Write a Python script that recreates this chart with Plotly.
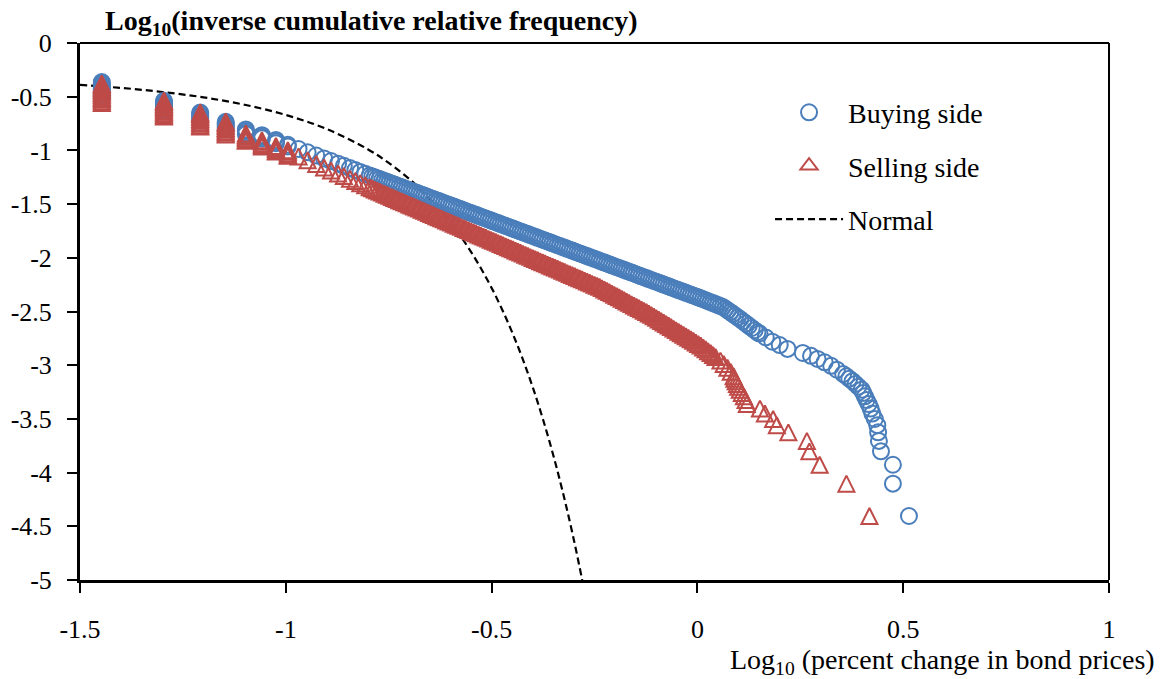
import plotly.graph_objects as go

# ---- data -------------------------------------------------------------
# lowest price-change levels: each level carries a column of tied observations
col_x = [-1.447, -1.296, -1.208, -1.146, -1.097, -1.058, -1.024, -0.995]
buy_col_y = [
    [-0.363, -0.378, -0.393, -0.408, -0.423, -0.438, -0.453, -0.468, -0.483, -0.498, -0.513],
    [-0.538, -0.553, -0.568, -0.583, -0.598, -0.613, -0.628],
    [-0.647, -0.662, -0.677, -0.692, -0.707, -0.722],
    [-0.734, -0.749, -0.764, -0.779, -0.794],
    [-0.805, -0.820, -0.835, -0.850],
    [-0.858, -0.873, -0.888],
    [-0.903, -0.918, -0.933],
    [-0.948, -0.963],
]
sell_col_y = [
    [-0.377, -0.392, -0.407, -0.422, -0.437, -0.452, -0.467, -0.482, -0.497, -0.512, -0.527,
     -0.542, -0.559],
    [-0.535, -0.550, -0.565, -0.580, -0.595, -0.610, -0.625, -0.640, -0.655, -0.670, -0.684],
    [-0.647, -0.662, -0.677, -0.692, -0.707, -0.722, -0.737, -0.752, -0.767, -0.777],
    [-0.731, -0.746, -0.761, -0.776, -0.791, -0.806, -0.821, -0.836, -0.852],
    [-0.843, -0.858, -0.873, -0.888, -0.903, -0.911],
    [-0.905, -0.920, -0.935, -0.950, -0.964],
    [-0.958, -0.973, -0.988, -1.003, -1.010],
    [-0.998, -1.013, -1.028, -1.043, -1.050],
]

# body of the distribution (shared price-change levels)
band_x = [
    -0.969, -0.947, -0.926, -0.907, -0.890, -0.873, -0.859, -0.844, -0.831, -0.819, -0.807, -0.796,
    -0.790, -0.784, -0.778, -0.772, -0.766, -0.760, -0.754, -0.748, -0.742, -0.736,
    -0.730, -0.724, -0.718, -0.712, -0.706, -0.700, -0.694, -0.688, -0.682, -0.676,
    -0.670, -0.664, -0.658, -0.652, -0.646, -0.640, -0.634, -0.628, -0.622, -0.616,
    -0.610, -0.604, -0.598, -0.592, -0.586, -0.580, -0.574, -0.568, -0.562, -0.556,
    -0.550, -0.544, -0.538, -0.532, -0.526, -0.520, -0.514, -0.508, -0.502, -0.496,
    -0.490, -0.484, -0.478, -0.472, -0.466, -0.460, -0.454, -0.448, -0.442, -0.436,
    -0.430, -0.424, -0.418, -0.412, -0.406, -0.400, -0.394, -0.388, -0.382, -0.376,
    -0.370, -0.364, -0.358, -0.352, -0.346, -0.340, -0.334, -0.328, -0.322, -0.316,
    -0.310, -0.304, -0.298, -0.292, -0.286, -0.280, -0.274, -0.268, -0.262, -0.256,
    -0.250, -0.244, -0.238, -0.232, -0.226, -0.220, -0.214, -0.208, -0.202, -0.196,
    -0.190, -0.184, -0.178, -0.172, -0.166, -0.160, -0.154, -0.148, -0.142, -0.136,
    -0.130, -0.124, -0.118, -0.112, -0.106, -0.100, -0.094, -0.088, -0.082, -0.076,
    -0.070, -0.064, -0.058, -0.052, -0.046, -0.040, -0.034, -0.028, -0.022, -0.016,
    -0.010, -0.004, 0.002, 0.008, 0.014, 0.020, 0.026, 0.032, 0.038, 0.044,
]
buy_band_y = [
    -0.987, -1.018, -1.048, -1.075, -1.099, -1.124, -1.144, -1.165, -1.183, -1.200, -1.218, -1.233,
    -1.242, -1.250, -1.259, -1.267, -1.276, -1.284, -1.293, -1.301, -1.310, -1.318,
    -1.327, -1.336, -1.344, -1.353, -1.361, -1.370, -1.378, -1.387, -1.395, -1.404,
    -1.412, -1.421, -1.429, -1.438, -1.447, -1.455, -1.464, -1.472, -1.481, -1.489,
    -1.498, -1.506, -1.515, -1.523, -1.532, -1.540, -1.549, -1.558, -1.566, -1.575,
    -1.583, -1.592, -1.600, -1.609, -1.617, -1.626, -1.634, -1.643, -1.651, -1.660,
    -1.668, -1.677, -1.686, -1.694, -1.703, -1.711, -1.720, -1.728, -1.737, -1.745,
    -1.754, -1.762, -1.771, -1.779, -1.788, -1.797, -1.805, -1.814, -1.822, -1.831,
    -1.839, -1.848, -1.856, -1.865, -1.873, -1.882, -1.890, -1.899, -1.907, -1.916,
    -1.925, -1.933, -1.942, -1.950, -1.959, -1.967, -1.976, -1.984, -1.993, -2.001,
    -2.010, -2.018, -2.027, -2.036, -2.044, -2.053, -2.061, -2.070, -2.078, -2.087,
    -2.095, -2.104, -2.112, -2.121, -2.129, -2.138, -2.146, -2.155, -2.164, -2.172,
    -2.181, -2.189, -2.198, -2.206, -2.215, -2.223, -2.232, -2.240, -2.249, -2.257,
    -2.266, -2.275, -2.283, -2.292, -2.300, -2.309, -2.317, -2.326, -2.334, -2.343,
    -2.351, -2.360, -2.368, -2.377, -2.386, -2.395, -2.404, -2.413, -2.422, -2.431,
]
sell_band_y = [
    -1.056, -1.092, -1.127, -1.159, -1.187, -1.215, -1.238, -1.263, -1.285, -1.305, -1.325, -1.343,
    -1.353, -1.363, -1.373, -1.383, -1.393, -1.403, -1.413, -1.423, -1.433, -1.443,
    -1.453, -1.463, -1.473, -1.483, -1.493, -1.503, -1.512, -1.522, -1.532, -1.542,
    -1.552, -1.562, -1.572, -1.582, -1.592, -1.602, -1.612, -1.622, -1.632, -1.642,
    -1.652, -1.662, -1.672, -1.682, -1.692, -1.702, -1.712, -1.722, -1.732, -1.742,
    -1.752, -1.762, -1.772, -1.782, -1.792, -1.801, -1.811, -1.821, -1.831, -1.841,
    -1.851, -1.861, -1.871, -1.881, -1.891, -1.901, -1.911, -1.921, -1.931, -1.941,
    -1.951, -1.961, -1.971, -1.981, -1.991, -2.001, -2.011, -2.021, -2.031, -2.041,
    -2.051, -2.061, -2.071, -2.081, -2.091, -2.100, -2.110, -2.120, -2.130, -2.140,
    -2.150, -2.160, -2.170, -2.180, -2.190, -2.200, -2.210, -2.220, -2.230, -2.240,
    -2.250, -2.260, -2.270, -2.282, -2.294, -2.306, -2.319, -2.331, -2.344, -2.356,
    -2.368, -2.381, -2.393, -2.406, -2.418, -2.431, -2.443, -2.455, -2.468, -2.480,
    -2.493, -2.505, -2.518, -2.531, -2.545, -2.559, -2.574, -2.588, -2.602, -2.616,
    -2.631, -2.645, -2.659, -2.673, -2.688, -2.702, -2.716, -2.731, -2.745, -2.759,
    -2.773, -2.788, -2.802, -2.817, -2.835, -2.852, -2.870, -2.887, -2.905, -2.923,
]

# upper tails (largest changes, sparse)
buy_tail_x = [
    0.050, 0.056, 0.062, 0.068, 0.074, 0.080, 0.086, 0.092, 0.098, 0.104, 0.111, 0.118,
    0.125, 0.132, 0.139, 0.146, 0.151, 0.166, 0.182, 0.200, 0.219, 0.256, 0.276, 0.292,
    0.309, 0.325, 0.339, 0.354, 0.362, 0.369, 0.377, 0.384, 0.391, 0.399, 0.403, 0.407,
    0.411, 0.416, 0.421, 0.425, 0.431, 0.437, 0.439, 0.441, 0.446, 0.475, 0.475, 0.514,
]
buy_tail_y = [
    -2.440, -2.449, -2.458, -2.474, -2.490, -2.506, -2.522, -2.539, -2.555, -2.571, -2.592, -2.612,
    -2.633, -2.653, -2.674, -2.694, -2.705, -2.741, -2.781, -2.813, -2.848, -2.886, -2.913, -2.942,
    -2.973, -3.006, -3.042, -3.082, -3.103, -3.125, -3.149, -3.174, -3.200, -3.228, -3.258, -3.290,
    -3.325, -3.362, -3.404, -3.450, -3.501, -3.558, -3.625, -3.705, -3.802, -3.927, -4.103, -4.404,
]
sell_tail_x = [
    0.056, 0.064, 0.073, 0.081, 0.088, 0.090, 0.093, 0.096, 0.099, 0.103, 0.108, 0.113,
    0.117, 0.120, 0.152, 0.164, 0.184, 0.193, 0.221, 0.266, 0.272, 0.297, 0.362, 0.418,
]
sell_tail_y = [
    -2.957, -2.989, -3.024, -3.062, -3.103, -3.125, -3.149, -3.174, -3.200, -3.228, -3.258, -3.290,
    -3.325, -3.362, -3.404, -3.450, -3.501, -3.558, -3.625, -3.705, -3.802, -3.927, -4.103, -4.404,
]

# normal benchmark curve
normal_x = [-1.5, -1.4, -1.3, -1.2, -1.1, -1.0, -0.9, -0.8, -0.75, -0.7, -0.65, -0.6, -0.575,
            -0.55, -0.525, -0.5, -0.475, -0.45, -0.425, -0.4, -0.375, -0.35, -0.325, -0.3, -0.275]
normal_y = [-0.390, -0.418, -0.456, -0.506, -0.575, -0.670, -0.802, -0.991, -1.116, -1.266,
            -1.449, -1.672, -1.801, -1.945, -2.104, -2.280, -2.476, -2.694, -2.936, -3.206,
            -3.506, -3.840, -4.213, -4.629, -5.094]

x_tickvals = [-1.5, -1, -0.5, 0, 0.5, 1]
x_ticktext = ["-1.5", "-1", "-0.5", "0", "0.5", "1"]
y_tickvals = [0, -0.5, -1, -1.5, -2, -2.5, -3, -3.5, -4, -4.5, -5]
y_ticktext = ["0", "-0.5", "-1", "-1.5", "-2", "-2.5", "-3", "-3.5", "-4", "-4.5", "-5"]

BLUE = "#4A7EBB"
RED = "#BE4B48"
FONT = "Liberation Serif"
MSIZE = 16


def flatten(cx, cy, bx, by, tx, ty):
    xs, ys = [], []
    for x0, col in zip(cx, cy):
        for y0 in col:
            xs.append(x0)
            ys.append(y0)
    xs += list(bx) + list(tx)
    ys += list(by) + list(ty)
    return xs, ys


buy_x, buy_y = flatten(col_x, buy_col_y, band_x, buy_band_y, buy_tail_x, buy_tail_y)
sell_x, sell_y = flatten(col_x, sell_col_y, band_x, sell_band_y, sell_tail_x, sell_tail_y)

fig = go.Figure()

fig.add_trace(go.Scatter(
    x=normal_x, y=normal_y, mode="lines", name="Normal",
    line=dict(color="black", width=2.2, dash="7px,4px", shape="spline"),
    legendgroup="n", legendrank=3, hoverinfo="skip",
))
fig.add_trace(go.Scatter(
    x=buy_x, y=buy_y, mode="markers", name="Buying side",
    marker=dict(symbol="circle-open", size=MSIZE, color=BLUE, line=dict(width=2, color=BLUE)),
    legendgroup="b", legendrank=1,
))
# upward triangles centred on the point (arrow rotated and pushed back by half its size)
fig.add_trace(go.Scatter(
    x=sell_x, y=sell_y, mode="markers", name="Selling side",
    marker=dict(symbol="arrow-down-open", angle=180, standoff=MSIZE / 2, size=MSIZE, color=RED,
                line=dict(width=2, color=RED)),
    legendgroup="s", showlegend=False,
))
# legend key for the selling side (legend symbols ignore the standoff offset)
fig.add_trace(go.Scatter(
    x=[None], y=[None], mode="markers", name="Selling side",
    marker=dict(symbol="triangle-up-open", size=15, color=RED, line=dict(width=2, color=RED)),
    legendgroup="s", legendrank=2,
))

axis_common = dict(
    showline=True, linewidth=3, linecolor="black",
    ticks="outside", ticklen=10, tickwidth=2, tickcolor="black",
    showgrid=False, zeroline=False, automargin=False,
    tickfont=dict(family=FONT, size=26, color="black"),
)

fig.update_layout(
    width=1164, height=679,
    margin=dict(l=80, r=55, t=43, b=99, autoexpand=False),
    paper_bgcolor="white", plot_bgcolor="white",
    xaxis=dict(range=[-1.5, 1], tickvals=x_tickvals, ticktext=x_ticktext,
               ticklabelstandoff=14, **axis_common),
    yaxis=dict(range=[-5, 0], tickvals=y_tickvals, ticktext=y_ticktext,
               ticklabelstandoff=10, **axis_common),
    legend=dict(
        x=0.6706, y=0.917, xanchor="left", yanchor="top",
        bgcolor="rgba(0,0,0,0)", borderwidth=0,
        font=dict(family=FONT, size=28, color="black"),
        itemwidth=68, traceorder="grouped", tracegroupgap=14,
    ),
    shapes=[
        dict(type="line", xref="paper", yref="paper", x0=0, y0=1, x1=1, y1=1,
             line=dict(color="black", width=2)),
        dict(type="line", xref="paper", yref="paper", x0=1, y0=0, x1=1, y1=1,
             line=dict(color="black", width=2)),
    ],
    annotations=[
        dict(text="<b>Log<sub>10</sub>(inverse cumulative relative frequency)</b>",
             xref="paper", yref="paper", x=0.0224, y=1.039, xanchor="left", yanchor="middle",
             showarrow=False, font=dict(family=FONT, size=28, color="black")),
        dict(text="Log<sub>10</sub> (percent change in bond prices)",
             xref="paper", yref="paper", x=1.0467, y=-0.152, xanchor="right", yanchor="middle",
             showarrow=False, font=dict(family=FONT, size=28, color="black")),
    ],
    showlegend=True,
)

fig.write_html("out.html")
